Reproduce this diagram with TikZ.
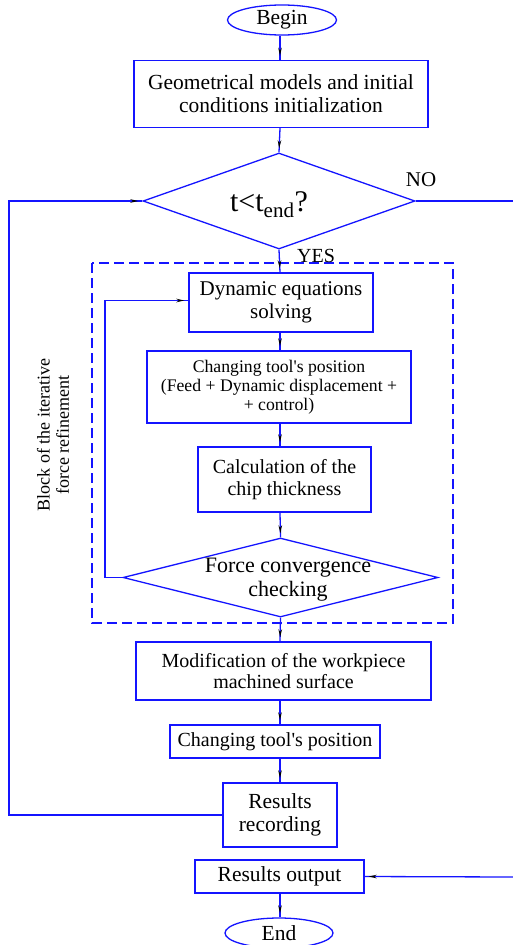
\documentclass[tikz,border=0pt]{standalone}
\usepackage{fontspec}
\setmainfont{Liberation Serif}
\usetikzlibrary{shapes.geometric,arrows.meta,decorations.markings}
\definecolor{lineblue}{RGB}{20,20,255}
\tikzset{
  box/.style={draw=lineblue,line width=1.3pt,rectangle,inner sep=0pt,align=center,text=black},
  oval/.style={draw=lineblue,line width=1.3pt,ellipse,inner sep=0pt,text=black},
  dia/.style={draw=lineblue,line width=1.3pt,diamond,inner sep=0pt,text=black,align=center},
  conn/.style={draw=lineblue,line width=1.3pt,postaction={decorate},
    decoration={markings,mark=at position -4pt with {\arrow[black]{Stealth[length=8pt,width=3.5pt]}}}},
  plain/.style={draw=lineblue,line width=1.3pt},
  fs/.style={font=\fontsize{#1}{\fpeval{#1*1.08}}\selectfont}
}
\begin{document}
\begin{tikzpicture}[x=1pt,y=-1pt]
\useasboundingbox (0,0) rectangle (513,945);
\fill[white] (0,0) rectangle (513,945);
% dashed block
\draw[lineblue,line width=1.3pt,dash pattern=on 10pt off 5pt] (92,263) rectangle (453,623);
\node[rotate=90,align=center,fs=18,text=black] (blk) at (53,435) {Block of the iterative\\force refinement};

\node[oval,minimum width=109pt,minimum height=30pt,fs=21.5] (begin) at (282,20) {Begin};
\node[box,minimum width=294pt,minimum height=67pt,fs=21.5] (b1) at (281,94) {Geometrical models and initial\\conditions initialization};
\node[dia,minimum width=272pt,minimum height=96pt] (d1) at (279,201) {};
\node[text=black,font=\fontsize{30}{32}\selectfont] (cond) at (269,205) {t<t\textsubscript{end}?};
\node[text=black,fs=21] (no) at (421,180) {NO};
\node[text=black,fs=20] (yes) at (316,256) {YES};
\coordinate (noR) at (513,201);

\node[box,minimum width=184pt,minimum height=59pt,fs=21] (b2) at (281,302.5) {Dynamic equations\\solving};
\node[box,minimum width=264pt,minimum height=72pt,fs=17.7] (b3) at (279,387) {Changing tool\textquotesingle s position\\(Feed + Dynamic displacement +\\+ control)};
\node[box,minimum width=173pt,minimum height=65pt,fs=20] (b4) at (284.5,479.5) {Calculation of the\\chip thickness};
\node[dia,minimum width=315pt,minimum height=79pt] (d2) at (280.5,577.5) {};
\node[text=black,fs=22,align=center] (d2t) at (288,580) {Force convergence\\checking};

\node[box,minimum width=295pt,minimum height=58pt,fs=20] (b5) at (283.5,671) {Modification of the workpiece\\machined surface};
\node[box,minimum width=210pt,minimum height=33pt,fs=20] (b6) at (275,741.5) {Changing tool\textquotesingle s position};
\node[box,minimum width=114pt,minimum height=64pt,fs=21.5] (b7) at (280,815) {Results\\recording};
\node[box,minimum width=169pt,minimum height=33pt,fs=21.5] (b8) at (279.5,876.5) {Results output};
\node[oval,minimum width=108pt,minimum height=30pt,fs=21.5] (end) at (279,933) {End};
\coordinate (outR) at (513,877);

% connectors
\draw[conn] (begin.south -| 280,0) -- (b1.north -| 280,0);
\draw[conn] (b1.south -| 280,0) -- (d1.north);
\draw[conn] (d1.south) -- (b2.north -| 280,0);
\draw[conn] (b2.south -| 280,0) -- (b3.north -| 280,0);
\draw[conn] (b3.south -| 280,0) -- (b4.north -| 280,0);
\draw[conn] (b4.south -| 280,0) -- (d2.north);
\draw[conn] (d2.south) -- (b5.north -| 280,0);
\draw[conn] (b5.south -| 280,0) -- (b6.north -| 280,0);
\draw[conn] (b6.south -| 280,0) -- (b7.north -| 280,0);
\draw[conn] (b8.south -| 280,0) -- (end.north -| 280,0);
\draw[plain] (d1.east) -- (noR);
\draw[conn] (outR) -- (b8.east);
\draw[conn] (d2.west) -- (105,577.5) |- (b2.west |- 0,300.5);
\draw[conn] (b7.west) -- (9,815) |- (d1.west);
\end{tikzpicture}
\end{document}
